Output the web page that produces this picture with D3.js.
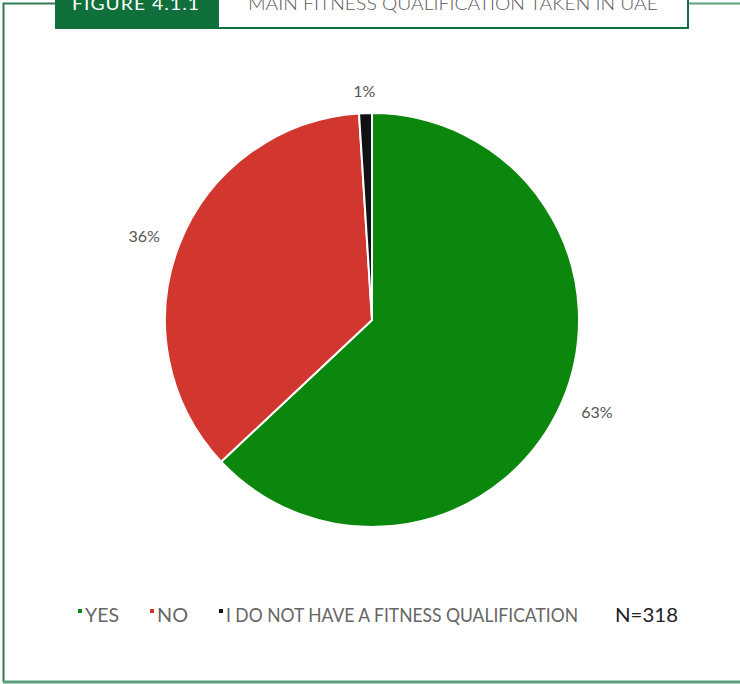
<!DOCTYPE html>
<html><head><meta charset="utf-8">
<script src="https://cdn.jsdelivr.net/npm/d3@7"></script>
<style>body{margin:0;background:#fff}svg{display:block}</style>
</head><body>
<svg id="c" width="740" height="684"></svg>
<script>
const categories = ["YES", "NO", "I DO NOT HAVE A FITNESS QUALIFICATION"];
const values = [63, 36, 1];
const labels = ["63%", "36%", "1%"];
const colors = ["#0a870c", "#d1362f", "#111111"];
const title = "MAIN FITNESS QUALIFICATION TAKEN IN UAE";
const figure = "FIGURE 4.1.1";
const note = "N=318";

const svg = d3.select("#c");
const font = "'Century Gothic','URW Gothic','Lato','DejaVu Sans',sans-serif";

// frame
svg.append("path").attr("d","M55,3.5 H3.5 V682").attr("fill","none").attr("stroke","#2f7d52").attr("stroke-width",2);
svg.append("path").attr("d","M3,682 H740").attr("fill","none").attr("stroke","#5f9f7e").attr("stroke-width",3);
svg.append("path").attr("d","M689,3.5 H740").attr("fill","none").attr("stroke","#5f9f7e").attr("stroke-width",2);
// header
svg.append("rect").attr("x",55).attr("y",-2).attr("width",163).attr("height",31).attr("fill","#10703c");
svg.append("rect").attr("x",218).attr("y",-2).attr("width",470).attr("height",30).attr("fill","#fff").attr("stroke","#10703c").attr("stroke-width",2);
svg.append("text").attr("x",136).attr("y",10).attr("text-anchor","middle").attr("fill","#fff")
  .attr("font-family",font).attr("font-size",18).attr("letter-spacing",1).attr("textLength",128).attr("lengthAdjust","spacingAndGlyphs").text(figure);
svg.append("text").attr("x",453).attr("y",10).attr("text-anchor","middle").attr("fill","#5a5a5a")
  .attr("font-family",font).attr("font-size",18).attr("font-weight",300).attr("textLength",410).attr("lengthAdjust","spacingAndGlyphs").text(title);

// pie
const cx = 372, cy = 320, r = 207;
const pie = d3.pie().sort(null).value(d => d)(values);
const arc = d3.arc().innerRadius(0).outerRadius(r);
const g = svg.append("g").attr("transform",`translate(${cx},${cy})`);
g.selectAll("path").data(pie).join("path")
  .attr("d", arc).attr("fill",(d,i)=>colors[i]).attr("stroke","#fff").attr("stroke-width",2).attr("stroke-linejoin","round");
const rx = 245, ry = 230;
g.selectAll("text").data(pie).join("text")
  .attr("x", d => Math.sin((d.startAngle+d.endAngle)/2)*rx)
  .attr("y", d => -Math.cos((d.startAngle+d.endAngle)/2)*ry + 1)
  .attr("dy","0.35em").attr("text-anchor","middle")
  .attr("font-family",font).attr("font-size",16).attr("fill","#555")
  .text((d,i)=>labels[i]);

// legend
const legX = [78, 150, 219];
const legW = [34, 31, 352];
const ly = 615;
const lg = svg.append("g");
categories.forEach((c,i)=>{
  lg.append("rect").attr("x",legX[i]).attr("y",ly-6).attr("width",4).attr("height",4).attr("fill",colors[i]);
  lg.append("text").attr("x",legX[i]+7).attr("y",ly+7).attr("font-family",font).attr("font-size",19)
    .attr("fill","#666").attr("textLength",legW[i]).attr("lengthAdjust","spacingAndGlyphs").text(c);
});
lg.append("text").attr("x",615).attr("y",ly+7).attr("font-family",font).attr("font-size",19)
  .attr("fill","#222").attr("textLength",63).attr("lengthAdjust","spacingAndGlyphs").text(note);
</script>
</body></html>
